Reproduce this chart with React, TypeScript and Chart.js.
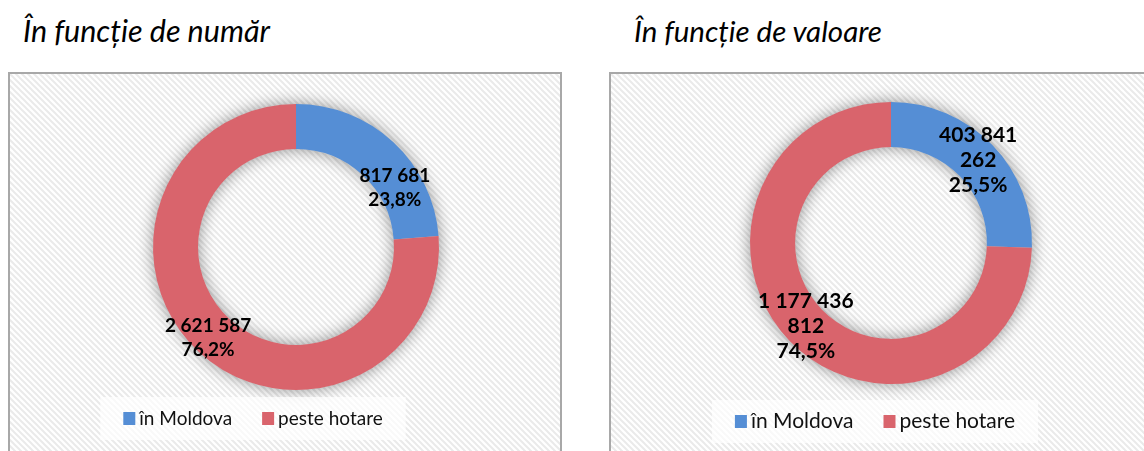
import React, { useEffect, useRef } from "react";
import { Chart, registerables } from "chart.js";

Chart.register(...registerables);

// ---- data ----
const categories = ["în Moldova", "peste hotare"];
const countValues = [817681, 2621587];
const valueValues = [403841262, 1177436812];
const titles = ["În funcție de număr", "În funcție de valoare"];
const sliceColors = ["#558ED5", "#D9646C"];

const FONT = "Lato, 'Open Sans', sans-serif";

const fmt = (n: number) => String(n).replace(/\B(?=(\d{3})+(?!\d))/g, " ");
const pct = (v: number, total: number) => ((v / total) * 100).toFixed(1).replace(".", ",") + "%";

function makePattern(ctx: CanvasRenderingContext2D) {
  const c = document.createElement("canvas");
  c.width = 6;
  c.height = 6;
  const p = c.getContext("2d")!;
  p.fillStyle = "#ffffff";
  p.fillRect(0, 0, 6, 6);
  p.strokeStyle = "#eaeaea";
  p.lineWidth = 2;
  p.beginPath();
  p.moveTo(-3, -3); p.lineTo(9, 9);
  p.moveTo(-3, 3); p.lineTo(3, 9);
  p.moveTo(3, -3); p.lineTo(9, 3);
  p.stroke();
  return ctx.createPattern(c, "repeat")!;
}

function wrapWords(ctx: CanvasRenderingContext2D, text: string, maxW: number) {
  const words = text.split(" ");
  const lines: string[] = [];
  let cur = "";
  for (const w of words) {
    const test = cur ? cur + " " + w : w;
    if (cur && ctx.measureText(test).width > maxW) {
      lines.push(cur);
      cur = w;
    } else cur = test;
  }
  if (cur) lines.push(cur);
  return lines;
}

const panelPlugin = {
  id: "panelDeco",
  beforeDraw(chart: any) {
    const ctx = chart.ctx as CanvasRenderingContext2D;
    const w = chart.width, h = chart.height;
    ctx.save();
    ctx.fillStyle = makePattern(ctx);
    ctx.fillRect(0, 0, w, h);
    ctx.strokeStyle = "#A8A8A8";
    ctx.lineWidth = 2;
    ctx.beginPath();
    ctx.moveTo(1, h + 5);
    ctx.lineTo(1, 1);
    ctx.lineTo(w - 1, 1);
    ctx.lineTo(w - 1, h + 5);
    ctx.stroke();
    ctx.restore();
  },
  beforeDatasetsDraw(chart: any) {
    const ctx = chart.ctx as CanvasRenderingContext2D;
    const arc = chart.getDatasetMeta(0).data[0];
    const { x, y, innerRadius, outerRadius } = arc.getProps(["x", "y", "innerRadius", "outerRadius"], true);
    ctx.save();
    ctx.shadowColor = "rgba(0,0,0,0.42)";
    ctx.shadowBlur = 16;
    ctx.fillStyle = "#cccccc";
    ctx.beginPath();
    ctx.arc(x, y, outerRadius, 0, Math.PI * 2);
    ctx.moveTo(x + innerRadius, y);
    ctx.arc(x, y, innerRadius, 0, Math.PI * 2, true);
    ctx.fill("evenodd");
    ctx.restore();
  },
  afterDatasetsDraw(chart: any, _a: any, opts: any) {
    const ctx = chart.ctx as CanvasRenderingContext2D;
    const ds = chart.data.datasets[0];
    const values = ds.data as number[];
    const total = values.reduce((s, v) => s + v, 0);
    const meta = chart.getDatasetMeta(0);
    ctx.save();
    ctx.font = `bold ${opts.labelSize}px ${FONT}`;
    ctx.fillStyle = "#000000";
    ctx.textAlign = "center";
    ctx.textBaseline = "middle";
    meta.data.forEach((arc: any, i: number) => {
      const c = arc.getCenterPoint();
      const nudge = (opts.labelNudge && opts.labelNudge[i]) || [0, 0];
      const lines = [...wrapWords(ctx, fmt(values[i]), opts.wrapWidth), pct(values[i], total)];
      const lh = opts.lineHeight;
      const cx = c.x + nudge[0];
      const cy = c.y + nudge[1];
      const startY = cy - ((lines.length - 1) * lh) / 2;
      lines.forEach((ln, k) => ctx.fillText(ln, cx, startY + k * lh));
    });
    ctx.restore();
  },
  afterDraw(chart: any, _a: any, opts: any) {
    const ctx = chart.ctx as CanvasRenderingContext2D;
    const labels = chart.data.labels as string[];
    const colors = chart.data.datasets[0].backgroundColor as string[];
    ctx.save();
    ctx.font = `${opts.legendSize}px ${FONT}`;
    const box = 12, gap = 4, itemGap = 30;
    const widths = labels.map((l) => ctx.measureText(l).width);
    const total = widths.reduce((s, w) => s + box + gap + w, 0) + itemGap * (labels.length - 1);
    const cx = opts.legendCenterX;
    const base = opts.legendBaseline;
    ctx.fillStyle = "rgba(255,255,255,0.7)";
    ctx.fillRect(cx - total / 2 - 23, base - 28, total + 46, 43);
    let x = cx - total / 2;
    ctx.textBaseline = "alphabetic";
    ctx.textAlign = "left";
    labels.forEach((l, i) => {
      ctx.fillStyle = colors[i];
      ctx.fillRect(x, base - 13, box, 13);
      ctx.fillStyle = "#111111";
      ctx.fillText(l, x + box + gap, base);
      x += box + gap + widths[i] + itemGap;
    });
    ctx.restore();
  },
};

type PanelProps = {
  values: number[];
  left: number;
  pad: { left: number; right: number; top: number; bottom: number };
  radius: number;
  cutout: string;
  deco: any;
};

function DonutPanel({ values, left, pad, radius, cutout, deco }: PanelProps) {
  const ref = useRef<HTMLCanvasElement | null>(null);
  useEffect(() => {
    if (!ref.current) return;
    const chart = new Chart(ref.current, {
      type: "doughnut",
      data: {
        labels: categories,
        datasets: [
          {
            data: values,
            backgroundColor: sliceColors,
            borderWidth: 0,
          },
        ],
      },
      options: {
        animation: false,
        responsive: false,
        radius,
        cutout,
        rotation: 0,
        layout: { padding: pad },
        plugins: {
          legend: { display: false },
          tooltip: { enabled: false },
          panelDeco: deco,
        } as any,
      },
      plugins: [panelPlugin],
    });
    return () => chart.destroy();
  }, []);
  return (
    <canvas
      ref={ref}
      width={554}
      height={379}
      style={{ position: "absolute", left, top: 72, width: 554, height: 379 }}
    />
  );
}

export default function App() {
  const titleStyle = (x: number, fs: number): React.CSSProperties => ({
    position: "absolute",
    left: x,
    top: Math.round(42 - 0.887 * fs),
    fontFamily: FONT,
    fontStyle: "italic",
    fontSize: fs,
    lineHeight: `${fs}px`,
    color: "#000",
    whiteSpace: "nowrap",
  });
  return (
    <div style={{ position: "fixed", inset: 0, overflow: "hidden", background: "#fff" }}>
      <div style={titleStyle(23, 30.5)}>{titles[0]}</div>
      <div style={titleStyle(634, 29.5)}>{titles[1]}</div>
      <DonutPanel
        values={countValues}
        left={8}
        pad={{ left: 22, right: 0, top: 0, bottom: 29 }}
        radius={143}
        cutout="68.5%"
        deco={{
          labelSize: 19,
          lineHeight: 24,
          wrapWidth: 105,
          labelNudge: [[17, 29], [-6, 2]],
          legendSize: 19,
          legendCenterX: 245,
          legendBaseline: 353,
        }}
      />
      <DonutPanel
        values={valueValues}
        left={609}
        pad={{ left: 10, right: 0, top: 0, bottom: 37 }}
        radius={141}
        cutout="68%"
        deco={{
          labelSize: 21,
          lineHeight: 25,
          wrapWidth: 105,
          labelNudge: [[2, 0], [0, 1]],
          legendSize: 21,
          legendCenterX: 266,
          legendBaseline: 356,
        }}
      />
    </div>
  );
}
